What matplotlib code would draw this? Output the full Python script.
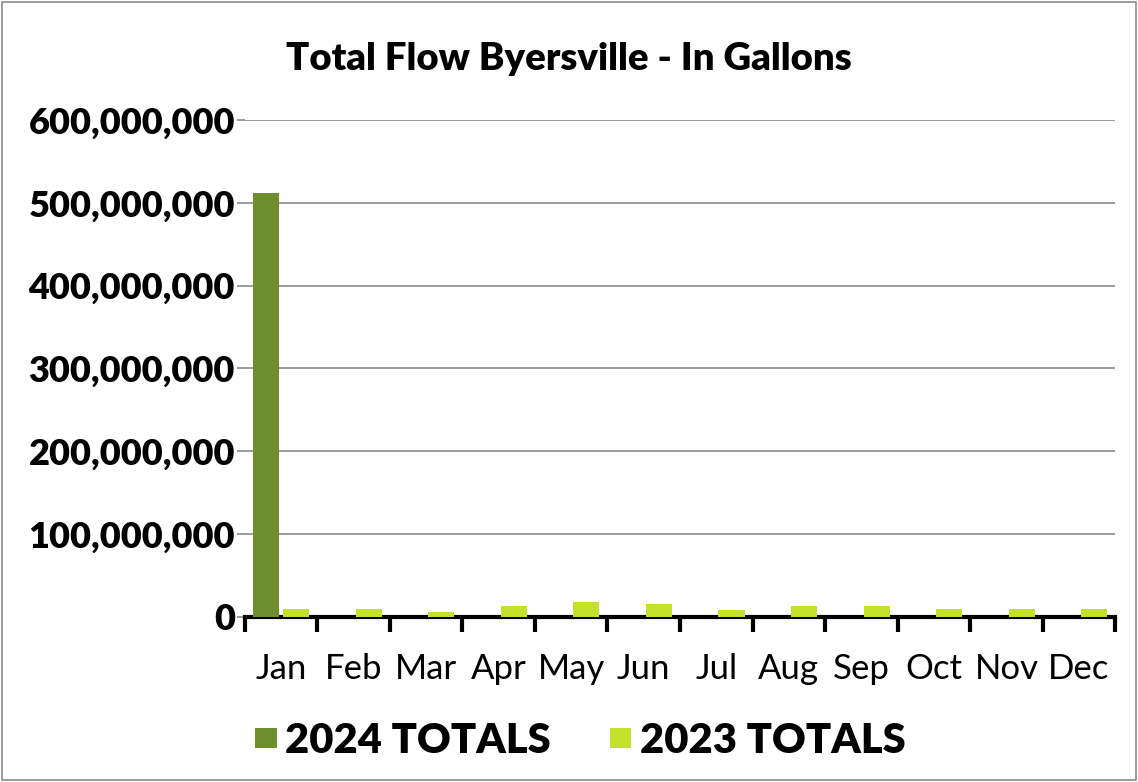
import numpy as np
import matplotlib.pyplot as plt
from matplotlib.ticker import FuncFormatter
from matplotlib.patches import Rectangle

months = ["Jan", "Feb", "Mar", "Apr", "May", "Jun", "Jul", "Aug", "Sep", "Oct", "Nov", "Dec"]
totals_2024 = [512000000, 0, 0, 0, 0, 0, 0, 0, 0, 0, 0, 0]
totals_2023 = [9500000, 9500000, 6500000, 13000000, 18000000, 15500000,
               9000000, 13000000, 13000000, 9500000, 9500000, 9500000]
yticks = [0, 100000000, 200000000, 300000000, 400000000, 500000000, 600000000]

plt.rcParams['font.family'] = ['Lato', 'DejaVu Sans']

fig = plt.figure(figsize=(11.38, 7.82), dpi=100)
fig.patches.append(Rectangle((0.002, 0.002), 0.996, 0.996, transform=fig.transFigure,
                             fill=False, edgecolor='#8c8c8c', linewidth=1.2))
ax = fig.add_axes([0.215, 0.211, 0.765, 0.6356])

x = np.arange(len(months))
w = 0.36
ax.bar(x - 0.21, totals_2024, w, color='#6f8f2e', linewidth=0,
       label='2024 TOTALS', zorder=3)
ax.bar(x + 0.21, totals_2023, w, color='#c3e02a', linewidth=0,
       label='2023 TOTALS', zorder=3)

ax.set_ylim(0, 600000000)
ax.set_xlim(-0.5, 11.5)
ax.set_yticks(yticks)
ax.yaxis.set_major_formatter(FuncFormatter(lambda v, p: f"{int(v):,}"))
ax.grid(axis='y', color='#8a8a8a', linewidth=1.2, zorder=0)
for s in ['top', 'right', 'left']:
    ax.spines[s].set_visible(False)
ax.spines['bottom'].set_linewidth(3)
ax.spines['bottom'].set_color('black')

ax.set_xticks(x)
ax.set_xticklabels(months, fontsize=25)
ax.tick_params(axis='x', length=0, pad=26)
ax.set_xticks(np.arange(-0.5, 12, 1), minor=True)
ax.tick_params(axis='x', which='minor', length=11, width=3, color='black')
ax.tick_params(axis='y', length=6, width=1.2, color='#8a8a8a', labelsize=26, pad=1)
for lab in ax.get_yticklabels():
    lab.set_fontweight('heavy')

fig.text(0.5, 0.925, "Total Flow Byersville - In Gallons", ha='center', va='center',
         fontsize=27.5, fontweight='heavy')

leg = fig.legend(loc='center', bbox_to_anchor=(0.51, 0.053), ncol=2, frameon=False,
                 prop={'size': 30, 'weight': 'heavy'}, handlelength=0.52, handleheight=0.36,
                 columnspacing=1.4, handletextpad=0.2)

fig.savefig("out.png", dpi=100)
